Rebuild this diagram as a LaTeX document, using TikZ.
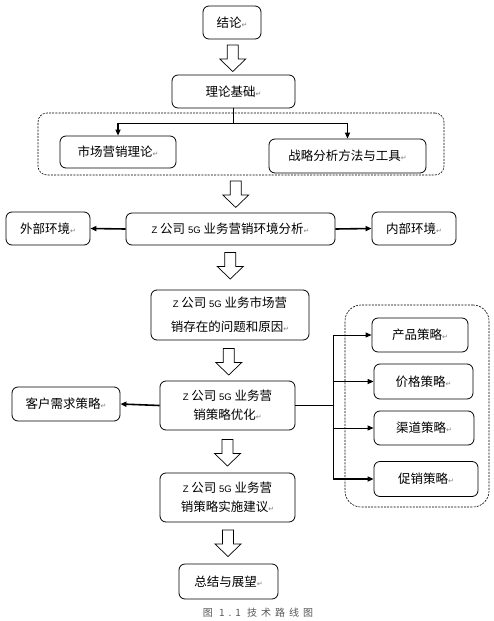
\documentclass[tikz,border=0pt]{standalone}
\usepackage{fontspec}
\setmainfont{Noto Sans CJK SC}
\newfontfamily\symfont{DejaVu Sans}
\newfontfamily\latfont{Liberation Sans}
\newfontfamily\capfont[LetterSpace=40]{Noto Sans CJK SC}
\usetikzlibrary{arrows.meta,calc}
\newcommand\pmk{{\symfont\fontsize{7}{7}\selectfont\textcolor{gray}{↵}}}
\newcommand\sm[1]{{\latfont\fontsize{9.5}{9.5}\selectfont #1}}
\begin{document}
\begin{tikzpicture}[x=1pt,y=-1pt,
  box/.style={draw,rounded corners=6pt,line width=0.8pt,align=center,inner sep=0pt,
              font=\fontsize{12.5}{19}\selectfont},
  grp/.style={draw,dash pattern=on 2pt off 1.2pt,line width=0.6pt,inner sep=0pt},
  conn/.style={line width=1.6pt,-{Triangle[length=6pt,width=5pt]}},
  thinconn/.style={line width=0.9pt,-{Triangle[length=6pt,width=5pt]}},
  hollow/.pic={\draw[line width=0.7pt,fill=white] (-5.5,-13) -- (-5.5,1) -- (-13,1) -- (0,13.5) -- (13,1) -- (5.5,1) -- (5.5,-13) -- cycle;}]
\useasboundingbox[fill=white] (0,0) rectangle (493,621);

% groups
\node[grp,rounded corners=9pt,minimum width=406,minimum height=62] (g1) at (241,144) {};
\node[grp,rounded corners=16pt,minimum width=144,minimum height=202] (g2) at (417,406) {};

% boxes
\node[box,minimum width=58,minimum height=33] (jl) at (232,22.5) {结论\pmk};
\node[box,minimum width=123,minimum height=33] (llj) at (233.5,91.5) {理论基础\pmk};
\node[box,minimum width=116,minimum height=32] (scyx) at (118,152) {市场营销理论\pmk};
\node[box,minimum width=157,minimum height=34] (zl) at (347.5,156) {战略分析方法与工具\pmk};
\node[box,minimum width=84,minimum height=33] (wb) at (48,228.5) {外部环境\pmk};
\node[box,minimum width=209,minimum height=32] (hj) at (230.5,229) {\sm{Z} 公司 \sm{5G} 业务营销环境分析\pmk};
\node[box,minimum width=84,minimum height=33] (nb) at (414,228.5) {内部环境\pmk};
\node[box,minimum width=158,minimum height=50,font=\fontsize{12.5}{24}\selectfont] (wt) at (230,315) {\sm{Z} 公司 \sm{5G} 业务市场营\\销存在的问题和原因\pmk};
\node[box,minimum width=135,minimum height=49] (yh) at (227.5,405.5) {\sm{Z} 公司 \sm{5G} 业务营\\销策略优化\pmk};
\node[box,minimum width=108,minimum height=34] (kh) at (66,404) {客户需求策略\pmk};
\node[box,minimum width=96,minimum height=34] (cp) at (420,335) {产品策略\pmk};
\node[box,minimum width=99,minimum height=35] (jg) at (423.5,381.5) {价格策略\pmk};
\node[box,minimum width=100,minimum height=34] (qd) at (424,428) {渠道策略\pmk};
\node[box,minimum width=104,minimum height=35] (cx) at (426,479) {促销策略\pmk};
\node[box,minimum width=135,minimum height=49] (ss) at (227.5,497.5) {\sm{Z} 公司 \sm{5G} 业务营\\销策略实施建议\pmk};
\node[box,minimum width=99,minimum height=35] (zj) at (228.5,581.5) {总结与展望\pmk};

% caption
\node[font=\capfont\fontsize{10}{10}\selectfont,text=black!65,inner sep=0pt] (cap) at (258,613) {图 1.1 技术路线图};

% hollow block arrows
\pic at ($(jl.south)!0.5!(llj.north)+(0,1)$) {hollow};
\pic at ($(g1.south)!0.5!(hj.north)$) {hollow};
\pic at ($(hj.south)!0.5!(wt.north)+(0,-2)$) {hollow};
\pic at ($(wt.south)!0.5!(yh.north)+(0,1)$) {hollow};
\pic at ($(yh.south)!0.5!(ss.north)+(0,1)$) {hollow};
\pic at ($(ss.south)!0.5!(zj.north)$) {hollow};

% connectors: theory
\coordinate (j1) at ($(llj.south)+(0,15)$);
\draw[line width=1.6pt] (llj.south) -- (j1);
\draw[conn] (j1) -| (scyx.north);
\draw[conn] (j1) -| (zl.north);

% environment
\draw[conn] (hj.west) -- (wb.east);
\draw[conn] (hj.east) -- (nb.west);

% strategy
\draw[conn] (yh.west) -- (kh.east);
\coordinate (v) at ($(yh.east)+(38,0)$);
\draw[line width=1.6pt] (yh.east) -- (v);
\draw[thinconn] (v) |- (cp.west);
\draw[conn] (v) |- (jg.west);
\draw[thinconn] (v) |- (qd.west);
\draw[conn] (v) |- (cx.west);
\end{tikzpicture}
\end{document}
